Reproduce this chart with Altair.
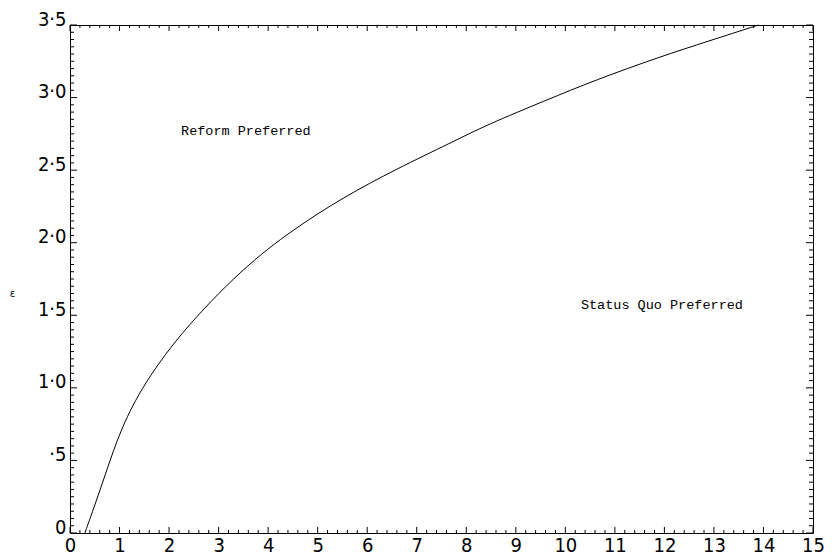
import altair as alt
import pandas as pd

# Curve (x, epsilon)
curve_x = [0.3, 0.5, 0.75, 1.0, 1.4, 2.2, 3.5, 4.5, 5.5, 6.6, 7.7, 8.4, 9.6, 10.6, 11.9, 12.9, 13.9]
curve_y = [0.0, 0.19, 0.44, 0.69, 0.98, 1.37, 1.83, 2.09, 2.31, 2.51, 2.69, 2.81, 2.98, 3.12, 3.28, 3.39, 3.50]

# Region labels
label_text = ["Reform Preferred", "Status Quo Preferred"]
label_x = [3.55, 11.95]
label_y = [2.77, 1.57]

# Axis tick values
x_major = list(range(16))
x_minor = [round(i * 0.2, 2) for i in range(76) if i % 5 != 0]
y_major = [round(i * 0.5, 2) for i in range(8)]
y_minor = [round(i * 0.05, 2) for i in range(71) if i % 10 != 0]

W, H = 743, 508

xs = alt.Scale(domain=[0, 15], nice=False, zero=False)
ys = alt.Scale(domain=[0, 3.5], nice=False, zero=False)

num_font = "Liberation Sans Narrow, DejaVu Sans Condensed, sans-serif"

xaxis = alt.Axis(values=x_major, ticks=False, domain=False, grid=False, title=None,
                 labelFont=num_font, labelFontSize=20, labelColor="black",
                 labelPadding=2, labelBaseline="top", labelFlush=False)
yaxis = alt.Axis(values=y_major, ticks=False, domain=False, grid=False, title="ε",
                 labelExpr="datum.value == 0 ? '0' : (datum.value < 1 ? '·5' : replace(format(datum.value, '.1f'), '.', '·'))",
                 labelFont=num_font, labelFontSize=20, labelColor="black",
                 labelPadding=4, labelBaseline="alphabetic", labelFlush=False,
                 titleAngle=0, titleX=-58, titleY=268, titleFont="DejaVu Sans",
                 titleFontSize=10, titleFontWeight="normal", titleAlign="center",
                 titleBaseline="middle", titleColor="black")


def X(field):
    return alt.X(field, type="quantitative", scale=xs, axis=xaxis)


def Y(field):
    return alt.Y(field, type="quantitative", scale=ys, axis=yaxis)


curve_df = pd.DataFrame({"x": curve_x, "y": curve_y})
labels_df = pd.DataFrame({"x": label_x, "y": label_y, "t": label_text})

curve = alt.Chart(curve_df).mark_line(color="black", strokeWidth=1, interpolate="basis").encode(
    x=X("x"), y=Y("y"))

texts = alt.Chart(labels_df).mark_text(font="Liberation Mono", fontSize=13.5, color="black",
                                       align="center", baseline="middle").encode(
    x=X("x"), y=Y("y"), text="t:N")

layers = [curve, texts]


def xticks(vals, length):
    df = pd.DataFrame({"v": vals})
    bottom = alt.Chart(df).mark_rule(color="black", strokeWidth=1).encode(
        x=X("v"), y=alt.value(H), y2=alt.value(H - length))
    top = alt.Chart(df).mark_rule(color="black", strokeWidth=1).encode(
        x=X("v"), y=alt.value(0), y2=alt.value(length))
    return [bottom, top]


def yticks(vals, length):
    df = pd.DataFrame({"v": vals})
    left = alt.Chart(df).mark_rule(color="black", strokeWidth=1).encode(
        y=Y("v"), x=alt.value(0), x2=alt.value(length))
    right = alt.Chart(df).mark_rule(color="black", strokeWidth=1).encode(
        y=Y("v"), x=alt.value(W), x2=alt.value(W - length))
    return [left, right]


layers += xticks(x_major, 6) + xticks(x_minor, 3) + yticks(y_major, 7) + yticks(y_minor, 4)

chart = alt.layer(*layers).properties(
    width=W, height=H,
    autosize=alt.AutoSizeParams(type="none"),
    padding={"left": 62, "top": 17, "right": 13, "bottom": 26},
    background="white",
).configure_view(stroke="black", strokeWidth=1)

chart.save("out.html", embed_options={"renderer": "svg", "actions": False})
